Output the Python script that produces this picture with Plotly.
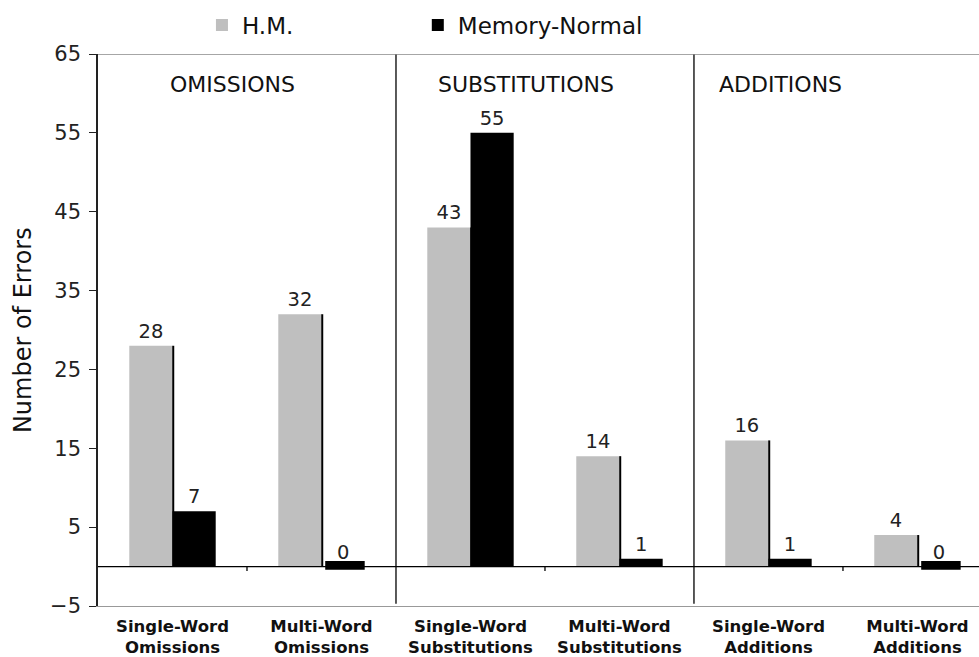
import plotly.graph_objects as go

categories = ["Single-Word<br>Omissions", "Multi-Word<br>Omissions",
              "Single-Word<br>Substitutions", "Multi-Word<br>Substitutions",
              "Single-Word<br>Additions", "Multi-Word<br>Additions"]
hm_values = [28, 32, 43, 14, 16, 4]
normal_values = [7, 0, 55, 1, 1, 0]
section_titles = ["OMISSIONS", "SUBSTITUTIONS", "ADDITIONS"]
section_title_x = [0.40, 2.37, 4.08]
y_ticks = [-5, 5, 15, 25, 35, 45, 55, 65]

FONT = "DejaVu Sans"
GREY = "#BFBFBF"
x_idx = list(range(len(categories)))

fig = go.Figure()
fig.add_trace(go.Bar(
    x=x_idx, y=hm_values, name="H.M.", marker=dict(color=GREY, line=dict(width=0)),
    text=[str(v) for v in hm_values], textposition="outside", legend="legend", showlegend=True,
    textfont=dict(family=FONT, size=19.5, color="#222"), cliponaxis=False))
fig.add_trace(go.Bar(
    x=x_idx, y=normal_values, name="Memory-Normal", marker=dict(color="#000", line=dict(width=0)),
    text=[str(v) for v in normal_values], textposition="outside", legend="legend2", showlegend=True,
    textfont=dict(family=FONT, size=19.5, color="#222"), cliponaxis=False))

shapes = []
# dark edge at right side of grey bars
for i, v in enumerate(hm_values):
    shapes.append(dict(type="line", xref="x", yref="y", x0=i + 0.005, x1=i + 0.005, y0=0, y1=v,
                       line=dict(color="#000", width=2)))
# zero-value bars shown as a thin slab
for i, v in enumerate(normal_values):
    if v == 0:
        shapes.append(dict(type="rect", xref="x", yref="y", x0=i + 0.025, x1=i + 0.29,
                           y0=-0.4, y1=0.7, fillcolor="#000", line=dict(width=0)))
# zero line
shapes.append(dict(type="line", xref="paper", yref="y", x0=0, x1=1, y0=0, y1=0,
                   line=dict(color="#000", width=1.3)))
# small ticks at within-section boundaries
for b in [0.5, 2.5, 4.5]:
    shapes.append(dict(type="line", xref="x", yref="y", x0=b, x1=b, y0=0, y1=-0.55,
                       line=dict(color="#000", width=1.3)))
# section dividers
for b in [1.5, 3.5]:
    shapes.append(dict(type="line", xref="x", yref="y", x0=b, x1=b, y0=65, y1=-4.7,
                       line=dict(color="#000", width=1.3)))
# top border
shapes.append(dict(type="line", xref="paper", yref="y", x0=0, x1=1, y0=65, y1=65,
                   line=dict(color="#888", width=1.3)))

annotations = [dict(x=x, y=61.1, xref="x", yref="y", text=t, showarrow=False,
                    font=dict(family=FONT, size=22, color="#111"))
               for x, t in zip(section_title_x, section_titles)]
annotations.append(dict(x=-0.085, y=0.5, xref="paper", yref="paper", text="Number of Errors",
                        textangle=-90, showarrow=False, xanchor="center",
                        font=dict(family=FONT, size=24, color="#111")))

legend_font = dict(family=FONT, size=23, color="#111")
fig.update_layout(
    width=979, height=657,
    margin=dict(l=98, r=0, t=54, b=51, autoexpand=False),
    paper_bgcolor="white", plot_bgcolor="white",
    barmode="group", bargap=0.42, bargroupgap=0,
    shapes=shapes, annotations=annotations,
    showlegend=True,
    legend=dict(orientation="h", x=0.118, y=1.0525, xanchor="left", yanchor="middle",
                font=legend_font, itemwidth=30, visible=True),
    legend2=dict(orientation="h", x=0.363, y=1.0525, xanchor="left", yanchor="middle",
                 font=legend_font, itemwidth=30, visible=True),
    xaxis=dict(range=[-0.5, 5.413], tickmode="array", tickvals=x_idx, ticktext=categories,
               tickfont=dict(family=FONT, size=16.5, color="#111", weight="bold"),
               showgrid=False, zeroline=False, showline=True, linecolor="#999", linewidth=1.3,
               ticks="", ticklabelstandoff=5),
    yaxis=dict(range=[-5, 65], tickmode="array", tickvals=y_ticks,
               tickfont=dict(family=FONT, size=21, color="#222"),
               showgrid=False, zeroline=False, showline=True, linecolor="#222", linewidth=1.5,
               ticks="outside", ticklen=7, tickcolor="#222", tickwidth=1.3,
               ticklabelstandoff=4),
)

fig.write_html("out.html", config={"displayModeBar": False},
               post_script="document.body.style.margin='0';document.body.style.padding='0';")
